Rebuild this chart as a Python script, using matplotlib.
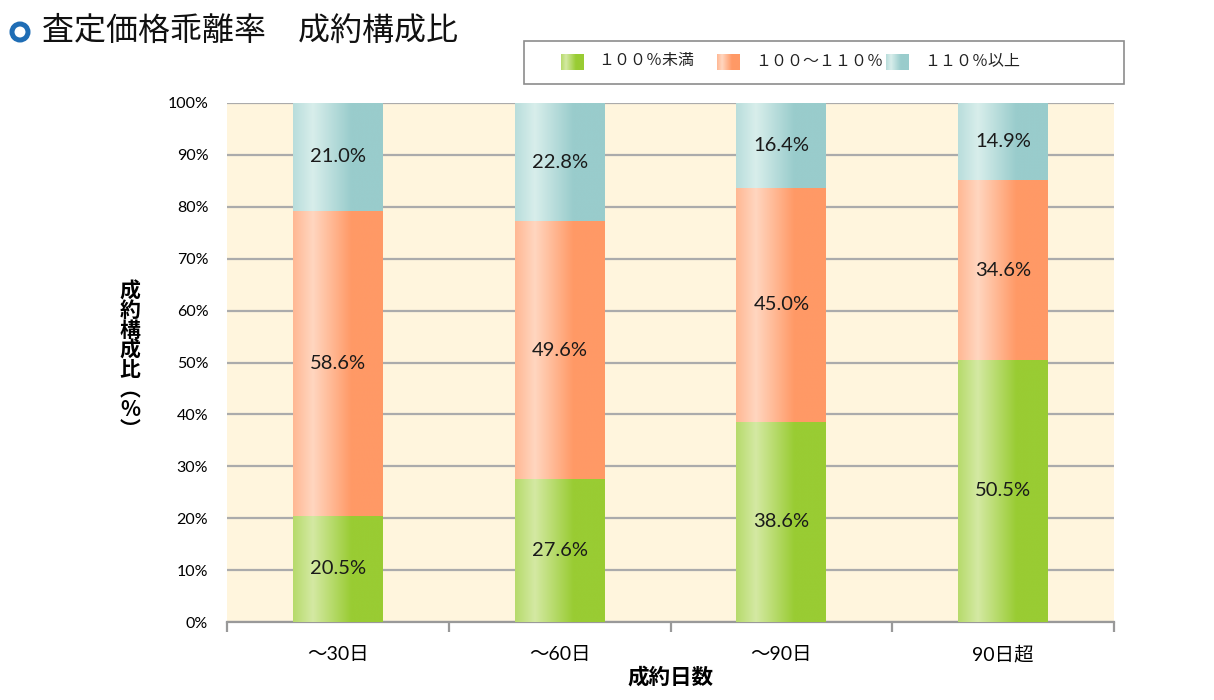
import numpy as np
import matplotlib
matplotlib.use("Agg")
import matplotlib.pyplot as plt
from matplotlib.colors import LinearSegmentedColormap, to_rgb
from matplotlib.patches import Rectangle, Ellipse

plt.rcParams['font.family'] = ['Lato', 'Noto Sans CJK JP', 'DejaVu Sans']

categories = ["～30日", "～60日", "～90日", "90日超"]
series_names = ["１００％未満", "１００～１１０％", "１１０％以上"]
under100 = [20.5, 27.6, 38.6, 50.5]
mid100_110 = [58.6, 49.6, 45.0, 34.6]
over110 = [21.0, 22.8, 16.4, 14.9]
yticks = [0, 10, 20, 30, 40, 50, 60, 70, 80, 90, 100]
title = "査定価格乖離率　成約構成比"
xlabel = "成約日数"
ylabel = "成\n約\n構\n成\n比\n︵\n%\n︶"

dark_colors = ["#99CC33", "#FF9966", "#99CCCC"]
light_colors = ["#D4E9A3", "#FFD6C0", "#D8EEEB"]

W, H = 1214, 700
fig = plt.figure(figsize=(W / 100, H / 100), dpi=100)
ax = fig.add_axes([227/W, 1-622/H, (1114-227)/W, (622-103)/H])
ax.set_facecolor("#FFF5DD")

x = np.arange(len(categories))
width = 0.405
series = [under100, mid100_110, over110]


def gradient_cmap(dark, light):
    d = to_rgb(dark); l = to_rgb(light)
    m = tuple(0.5 * (a + b) for a, b in zip(d, l))
    return LinearSegmentedColormap.from_list(
        "g", [(0.0, m), (0.22, l), (0.65, d), (1.0, d)])

grad = np.linspace(0, 1, 256).reshape(1, -1)
bottom = np.zeros(len(categories))
for si, vals in enumerate(series):
    bars = ax.bar(x, vals, width, bottom=bottom, color=dark_colors[si],
                  zorder=2, linewidth=0)
    cmap = gradient_cmap(dark_colors[si], light_colors[si])
    for b, v in zip(bars, vals):
        bx, by, bw, bh = b.get_x(), b.get_y(), b.get_width(), b.get_height()
        ax.imshow(grad, cmap=cmap, extent=[bx, bx + bw, by, by + bh],
                  aspect='auto', zorder=3, interpolation='bilinear')
        ax.text(bx + bw / 2, by + bh / 2, f"{v:.1f}%", ha='center', va='center',
                fontsize=14.5, color="#1a1a1a", zorder=4)
    bottom = bottom + np.array(vals)

ax.set_xlim(-0.5, len(categories) - 0.5)
ax.set_ylim(0, 100)
ax.set_yticks(yticks)
ax.set_yticklabels([f"{t}%" for t in yticks], fontsize=11.5)
ax.yaxis.grid(True, color="#ABABAB", linewidth=1.6, zorder=1)
ax.set_axisbelow(True)
ax.tick_params(axis='y', length=0, pad=13.5)
ax.set_xticks(x)
ax.set_xticklabels(categories, fontsize=14)
ax.tick_params(axis='x', which='major', length=0, pad=17)
ax.set_xticks(np.arange(-0.5, len(categories)), minor=True)
ax.tick_params(axis='x', which='minor', length=7, width=1.6, color="#999999")
for s in ['left', 'right', 'top']:
    ax.spines[s].set_visible(False)
ax.spines['bottom'].set_color("#999999")
ax.spines['bottom'].set_linewidth(1.6)

ax.set_xlabel(xlabel, fontsize=15.5, fontweight='bold', labelpad=2,
              family=['Noto Sans CJK JP'])
fig.text(130/W, 1 - 360/H, ylabel, fontsize=15, fontweight='bold',
         ha='center', va='center', linespacing=0.93,
         family=['Noto Sans CJK JP', 'DejaVu Sans'])

# Title
fig.patches.append(Ellipse((20/W, 1 - 32/H), 16/W, 16/H, transform=fig.transFigure,
                           facecolor='white', edgecolor="#1F6DB5", linewidth=3.6,
                           figure=fig, zorder=3))
fig.text(42/W, 1 - 31/H, title, fontsize=23, ha='left', va='center',
         family=['Noto Sans CJK JP'], color="#111111")

# Legend
fig.patches.append(Rectangle((524/W, 1 - 84/H), 600/W, 43/H,
                             transform=fig.transFigure, facecolor='white',
                             edgecolor="#8C8C8C", linewidth=1.2, figure=fig,
                             zorder=-1))
leg_patch_x = [561, 717, 886]
leg_text_x = [598, 755, 924]
for i, name in enumerate(series_names):
    x0 = leg_patch_x[i] / W
    y0 = 1 - 70/H
    cmap = gradient_cmap(dark_colors[i], light_colors[i])
    lax = fig.add_axes([x0, y0, 23/W, 16/H], zorder=5)
    lax.imshow(grad, cmap=cmap, aspect='auto', extent=[0, 1, 0, 1])
    lax.axis('off')
    fig.text(leg_text_x[i] / W, 1 - 61/H, name, fontsize=11.5, ha='left',
             va='center', family=['Noto Sans CJK JP'], color="#222222", zorder=6)

fig.savefig("out.png", dpi=100)
